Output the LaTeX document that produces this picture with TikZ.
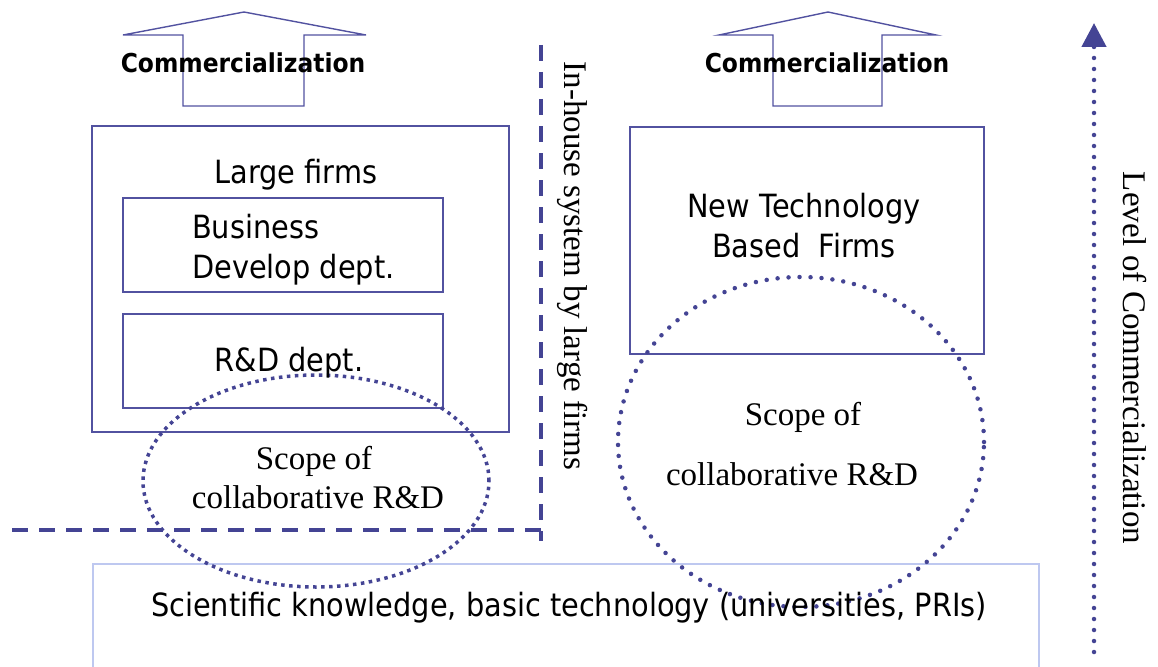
\documentclass[tikz,border=0pt]{standalone}
\usepackage{fontspec}
\setmainfont{Liberation Serif}
\newfontfamily\labelsans[FakeStretch=0.9]{DejaVu Sans}
\usetikzlibrary{shapes.geometric,arrows.meta}

\definecolor{navy}{RGB}{68,68,148}
\definecolor{lineblue}{RGB}{82,82,160}
\definecolor{paleblue}{RGB}{190,200,240}

\begin{document}
\begin{tikzpicture}
[x=1pt,y=-1pt,
  firmBox/.style={draw=lineblue,line width=1.4pt,minimum width=#1},%
  baseBox/.style={draw=paleblue,line width=1.4pt},%
  sansText/.style={font=\labelsans\fontsize{32}{38}\selectfont,anchor=base,inner sep=0pt},%
  serifText/.style={font=\fontsize{33}{40}\selectfont,anchor=base,inner sep=0pt},%
  upText/.style={font=\labelsans\bfseries\fontsize{26}{30}\selectfont,anchor=base,inner sep=0pt},%
  bigArrow/.style={draw=lineblue,line width=1.4pt,line join=miter},%
  scopeOval/.style={shape=ellipse,draw=navy,inner sep=0pt},%
  borderLine/.style={draw=navy,line width=4pt,dash pattern=on 16pt off 11pt}]
\clip (0,0) rectangle (1158,666);

%% boxes
\node (large) [firmBox=417pt,minimum height=306pt] at (300.5,279) {};
\node (bizdept) [firmBox=320pt,minimum height=94pt] at (283,245) {};
\node (rnddept) [firmBox=320pt,minimum height=94pt] at (283,361) {};
\node (ntbf) [firmBox=354pt,minimum height=227pt] at (807,240.5) {};
\node (base) [baseBox,minimum width=946pt,minimum height=140pt] at (566,634) {};

%% commercialization arrows
\draw[bigArrow] (123,35) -- (244,12) -- (366,35) -- (304,35) -- (304,106)
  -- (183,106) -- (183,35) -- cycle;
\draw[bigArrow] (719,35) -- (828,12) -- (936,35) -- (882,35) -- (882,106)
  -- (773,106) -- (773,35) -- cycle;

%% scopes of collaborative R&D
\node (scopeL) [scopeOval,line width=3.5pt,dash pattern=on 3.5pt off 4.5pt,
  minimum width=346pt,minimum height=212pt] at (316,481) {};
\node (scopeR) [scopeOval,line width=4.5pt,line cap=round,dash pattern=on 0pt off 11pt,
  minimum width=366pt,minimum height=330pt] at (801,442) {};

%% in-house border
\coordinate (cornerW) at (12,530);
\coordinate (corner) at (541,530);
\coordinate (cornerN) at (541,45);
\coordinate (cornerS) at (541,541);
\draw[borderLine] (cornerW) -- (corner);
\draw[borderLine] (cornerN) -- (cornerS);

%% level axis
\coordinate (axisS) at (1094,652);
\coordinate (axisN) at (1094,23);
\draw[navy,line width=4.5pt,line cap=round,dash pattern=on 0pt off 11pt,
  -{Triangle[length=24pt,width=24pt,line cap=butt]}] (axisS) -- (axisN);

%% texts
\node (commL) [upText] at (243,73) {Commercialization};
\node (commR) [upText] at (827,73) {Commercialization};
\node (largeLbl) [sansText] at (296,183) {Large firms};
\node (bizLbl1) [sansText,anchor=base west] at (192,238) {Business};
\node (bizLbl2) [sansText,anchor=base west] at (192,278) {Develop dept.};
\node (rndLbl) [sansText] at (289,371) {R\&D dept.};
\node (ntbfLbl1) [sansText] at (804,217) {New Technology};
\node (ntbfLbl2) [sansText] at (804,257) {Based\ \ Firms};
\node (baseLbl) [sansText] at (569,616) {Scientific knowledge, basic technology (universities, PRIs)};
\node (scopeL1) [serifText] at (314,469) {Scope of};
\node (scopeL2) [serifText] at (318,508) {collaborative R\&D};
\node (scopeR1) [serifText] at (803,425) {Scope of};
\node (scopeR2) [serifText] at (792,485) {collaborative R\&D};
\node (inhouse) [serifText,anchor=center,rotate=-90] at (573,266) {In-house system by large firms};
\node (level) [serifText,anchor=center,rotate=-90] at (1135,358) {Level of Commercialization};
\end{tikzpicture}
\end{document}
